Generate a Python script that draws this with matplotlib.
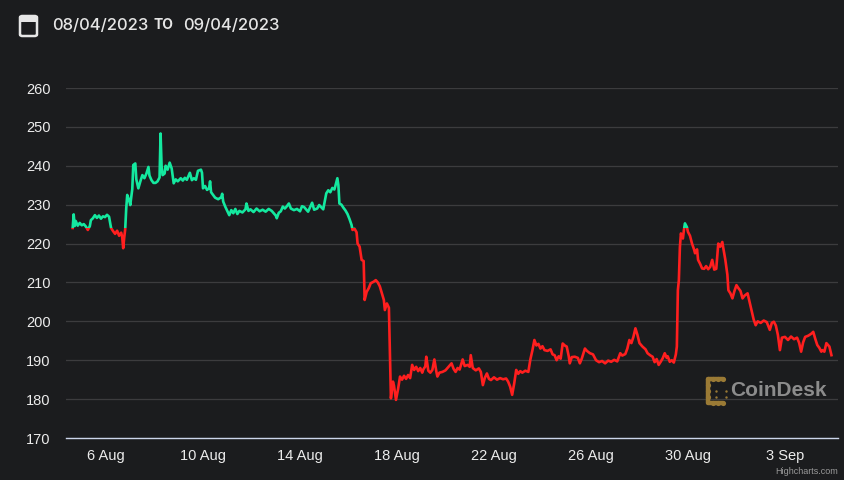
import matplotlib
matplotlib.use("Agg")
import matplotlib.pyplot as plt
import matplotlib.transforms as mtransforms
from matplotlib.patches import Rectangle, FancyBboxPatch
from datetime import datetime, timedelta

# hourly-ish price samples, hours counted from the first point
start = datetime(2023, 8, 4, 15)
hours = [
    0, 1, 2, 3, 5, 7, 9, 11, 13, 15,
    17, 18, 20, 22, 24, 26, 28, 30, 32, 34,
    36, 38, 40, 42, 44, 46, 48, 49, 50, 51,
    52, 53, 54, 56, 57, 59, 60, 62, 63, 65,
    67, 69, 71, 73, 75, 76, 78, 80, 82, 84,
    86, 87, 88, 89, 91, 92, 94, 96, 98, 100,
    102, 104, 107, 109, 111, 113, 116, 118, 120, 122,
    124, 127, 128, 129, 131, 133, 135, 136, 137, 139,
    141, 144, 147, 148, 149, 151, 153, 155, 157, 159,
    161, 163, 165, 168, 171, 172, 174, 176, 179, 182,
    185, 188, 191, 194, 197, 199, 201, 202, 204, 206,
    208, 210, 212, 214, 216, 219, 222, 225, 227, 229,
    233, 237, 239, 242, 244, 247, 248, 251, 253, 255,
    257, 259, 260, 262, 263, 264, 266, 268, 270, 272,
    274, 276, 277, 279, 281, 282, 284, 286, 288, 289,
    291, 293, 295, 298, 300, 302, 304, 306, 308, 309,
    311, 313, 314, 315, 317, 318, 320, 322, 324, 326,
    328, 330, 332, 334, 336, 338, 340, 342, 344, 346,
    347, 349, 350, 352, 354, 356, 358, 360, 361, 363,
    366, 369, 372, 375, 377, 379, 381, 383, 386, 388,
    391, 393, 394, 396, 399, 402, 404, 406, 408, 410,
    412, 414, 417, 420, 423, 426, 429, 431, 433, 435,
    437, 439, 441, 443, 445, 448, 451, 453, 455, 457,
    459, 461, 463, 465, 467, 470, 473, 475, 477, 479,
    481, 483, 485, 487, 489, 491, 492, 494, 497, 500,
    502, 504, 507, 509, 512, 515, 518, 521, 524, 527,
    530, 533, 536, 539, 542, 544, 547, 549, 551, 553,
    555, 557, 559, 561, 564, 567, 569, 572, 574, 576,
    578, 580, 582, 584, 586, 588, 589, 591, 593, 595,
    597, 598, 599, 600, 601, 602, 604, 605, 606, 608,
    609, 611, 613, 615, 616, 618, 619, 621, 623, 625,
    627, 629, 631, 633, 635, 637, 639, 641, 643, 644,
    646, 648, 649, 651, 653, 655, 657, 659, 661, 663,
    665, 668, 670, 672, 674, 676, 678, 681, 684, 687,
    690, 692, 694, 696, 698, 700, 702, 705, 708, 711,
    714, 717, 719, 721, 723, 725, 728, 731, 733, 735,
    737, 739, 741, 742, 744, 746, 748, 749, 751,
]
price = [
    224.0, 227.5, 224.5, 225.8, 224.6, 225.3, 224.7, 225.0, 224.4, 223.5,
    224.5, 226.0, 226.5, 227.3, 226.6, 227.2, 226.4, 227.0, 226.8, 227.4,
    226.9, 224.0, 223.2, 222.5, 223.3, 222.0, 222.8, 221.8, 218.8, 221.5,
    223.7, 229.0, 232.5, 231.0, 229.9, 234.0, 240.2, 240.6, 236.5, 234.2,
    236.0, 237.6, 236.8, 238.0, 239.7, 237.5, 236.3, 235.6, 235.6, 236.0,
    237.0, 248.3, 240.0, 237.6, 238.0, 240.0, 239.0, 240.8, 239.3, 235.5,
    236.5, 236.0, 236.8, 236.2, 236.9, 236.4, 238.2, 236.3, 236.8, 236.4,
    238.7, 239.0, 238.2, 234.2, 234.8, 233.8, 234.2, 236.0, 233.2, 232.5,
    231.8, 231.4, 231.9, 232.8, 230.8, 229.5, 228.4, 227.3, 228.6, 227.8,
    228.9, 227.6, 228.4, 228.0, 228.8, 230.3, 228.4, 228.8, 228.1, 229.0,
    228.3, 228.7, 228.2, 228.9, 228.4, 227.8, 227.2, 226.5, 227.9, 228.3,
    229.5, 229.0, 229.6, 230.3, 229.0, 228.6, 228.9, 228.3, 229.6, 229.4,
    228.2, 230.5, 228.7, 229.0, 229.9, 229.1, 228.8, 232.9, 233.7, 233.2,
    234.3, 233.9, 234.8, 236.8, 235.0, 230.3, 230.0, 229.2, 228.5, 227.6,
    226.3, 224.8, 223.5, 223.8, 222.9, 220.0, 219.2, 215.8, 215.5, 205.5,
    207.6, 208.5, 209.8, 210.2, 210.6, 210.0, 209.0, 207.2, 205.5, 202.9,
    204.6, 203.5, 192.0, 180.2, 184.5, 183.5, 179.8, 182.5, 185.8, 185.0,
    186.0, 185.2, 186.2, 185.4, 188.8, 187.5, 188.3, 187.2, 188.0, 186.8,
    187.6, 188.4, 190.9, 187.3, 186.8, 187.5, 190.2, 187.0, 185.8, 186.8,
    187.0, 187.4, 188.3, 189.2, 187.8, 187.0, 188.0, 187.6, 190.2, 188.5,
    188.8, 188.3, 191.3, 188.0, 187.4, 187.9, 187.0, 183.6, 185.5, 186.6,
    185.2, 184.9, 185.6, 185.0, 185.4, 185.1, 185.3, 184.5, 183.2, 181.1,
    184.0, 187.5, 186.5, 187.2, 186.8, 187.3, 187.0, 190.2, 192.5, 195.2,
    193.8, 194.2, 193.0, 193.6, 192.6, 192.4, 192.8, 191.5, 191.3, 190.0,
    191.0, 190.4, 194.3, 193.8, 193.5, 191.0, 189.2, 190.8, 190.9, 190.6,
    189.2, 190.5, 193.0, 192.4, 191.8, 191.5, 190.0, 189.5, 189.8, 189.2,
    189.9, 189.6, 190.1, 189.7, 191.8, 191.2, 191.6, 193.0, 195.2, 194.4,
    196.0, 198.2, 196.5, 194.4, 193.5, 192.8, 191.8, 191.2, 190.9, 189.5,
    190.3, 188.8, 189.6, 190.5, 191.8, 190.6, 191.0, 189.6, 190.0, 189.4,
    191.5, 193.5, 208.0, 210.6, 219.0, 222.6, 221.3, 223.5, 225.2, 224.2,
    223.0, 222.0, 220.0, 218.5, 217.5, 218.5, 215.8, 214.8, 213.6, 213.5,
    214.2, 213.4, 214.0, 215.8, 213.3, 213.5, 220.0, 219.2, 220.4, 218.8,
    215.8, 212.0, 208.0, 207.2, 205.9, 207.8, 209.3, 208.5, 207.8, 205.9,
    206.6, 207.2, 205.0, 202.9, 200.5, 199.0, 200.0, 199.6, 200.2, 199.8,
    197.8, 199.6, 199.9, 198.9, 196.5, 192.6, 195.8, 196.0, 195.2, 196.1,
    195.4, 195.8, 194.5, 192.2, 194.6, 196.0, 196.3, 196.8, 197.3, 195.5,
    193.9, 193.2, 192.2, 192.6, 192.2, 194.4, 193.8, 193.5, 191.3,
]
assert len(hours) == len(price)

threshold = 224.0
y_ticks = [170, 180, 190, 200, 210, 220, 230, 240, 250, 260]
x_tick_dates = [datetime(2023, 8, d) for d in (6, 10, 14, 18, 22, 26, 30)] + [datetime(2023, 9, 3)]
x_tick_labels = ["6 Aug", "10 Aug", "14 Aug", "18 Aug", "22 Aug", "26 Aug", "30 Aug", "3 Sep"]
date_from = "08/04/2023"
date_to = "09/04/2023"

BG = "#1b1c1e"
GREEN = "#14e89f"
RED = "#ff1f1f"
W, H = 844, 480


def fx(px):
    return px / W


def fy(py):
    return 1 - py / H


times = [start + timedelta(hours=h) for h in hours]

fig = plt.figure(figsize=(W / 100, H / 100), dpi=100, facecolor=BG)
ax = fig.add_axes([fx(66), 42 / H, 772 / W, 350 / H])
ax.set_facecolor(BG)

# line coloured by zone: green above the threshold, red below
blend = mtransforms.blended_transform_factory(ax.transAxes, ax.transData)
line_up, = ax.plot(times, price, color=GREEN, lw=1.9, solid_joinstyle="round")
line_dn, = ax.plot(times, price, color=RED, lw=1.9, solid_joinstyle="round")
clip_up = Rectangle((0, threshold), 1, 500, transform=blend)
clip_dn = Rectangle((0, threshold - 500), 1, 500, transform=blend)
line_up.set_clip_path(clip_up)
line_dn.set_clip_path(clip_dn)

ax.set_xlim(start - timedelta(hours=6.6), start + timedelta(hours=757.5))
ax.set_ylim(170, 260)
ax.set_yticks(y_ticks)
ax.set_xticks(x_tick_dates)
ax.set_xticklabels(x_tick_labels)
ax.yaxis.grid(True, color="#3c3c3e", lw=0.9)
ax.set_axisbelow(True)
for side in ("top", "right", "left"):
    ax.spines[side].set_visible(False)
ax.spines["bottom"].set_color("#ccd6eb")
ax.spines["bottom"].set_linewidth(1.0)
ax.tick_params(axis="both", length=0, colors="#ececec", labelsize=10.5)
ax.tick_params(axis="y", pad=11)
ax.tick_params(axis="x", pad=8)
for lab in ax.get_xticklabels() + ax.get_yticklabels():
    lab.set_fontfamily("Liberation Sans")

# header with calendar icon and date range
cal = FancyBboxPatch((fx(20), fy(36)), fx(17), 20 / H, boxstyle="round,pad=0,rounding_size=0.003",
                     transform=fig.transFigure, fill=False, ec="#e6e6e6", lw=1.8)
fig.add_artist(cal)
fig.add_artist(Rectangle((fx(20), fy(22)), fx(17), 5 / H, transform=fig.transFigure,
                         fc="#e6e6e6", ec="none"))
fig.text(fx(52), fy(25), date_from, color="#e6e6e6", fontsize=12, family="Inter", weight="medium",
         va="center", ha="left")
fig.text(fx(153), fy(25), "TO", color="#e6e6e6", fontsize=10, family="Inter", weight="bold",
         va="center", ha="left")
fig.text(fx(183), fy(25), date_to, color="#e6e6e6", fontsize=12, family="Inter", weight="medium",
         va="center", ha="left")

# CoinDesk watermark
lax = fig.add_axes([fx(702), fy(408), 28 / W, 34 / H])
lax.set_xlim(702, 730)
lax.set_ylim(408, 374)
lax.axis("off")
gold = "#9a7a35"
lax.plot([723, 708, 708, 723], [379, 379, 403, 403], color=gold, lw=3.2, solid_capstyle="round")
lax.scatter([708, 713, 718, 723, 708, 708, 708, 713, 718, 723], [379, 379, 379, 379, 385, 391, 397, 403, 403, 403],
            s=14, color=gold, lw=0)
lax.scatter([716, 726, 716, 726], [391, 391, 397, 397], s=3, color=gold, lw=0)
fig.text(fx(730), fy(390), "CoinDesk", color="#8c8c8c", fontsize=15, family="Liberation Sans",
         weight="bold", va="center", ha="left")

fig.text(fx(838), fy(471), "Highcharts.com", color="#999999", fontsize=6.5, family="Liberation Sans",
         va="center", ha="right")

fig.savefig("out.png", dpi=100, facecolor=BG)
